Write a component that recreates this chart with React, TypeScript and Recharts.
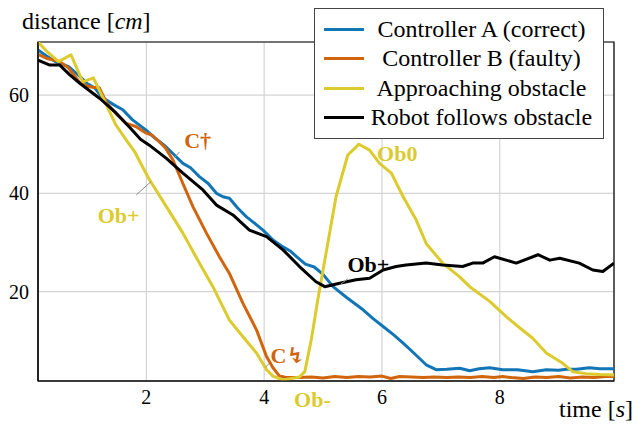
import React from "react";
import {
  LineChart,
  Line,
  XAxis,
  YAxis,
  CartesianGrid,
  ReferenceArea,
  ReferenceDot,
  ReferenceLine,
} from "recharts";

// [time s, distance cm]
const controllerA = [
  [0.16, 69.2], [0.3, 68.0], [0.46, 66.8], [0.68, 65.8], [0.85, 64.0], [1.0, 62.3],
  [1.12, 61.5], [1.25, 59.5], [1.45, 58.0], [1.6, 57.0], [1.76, 55.0], [1.99, 52.9],
  [2.15, 51.2], [2.3, 49.8], [2.45, 48.1], [2.62, 46.1], [2.75, 45.2], [2.9, 43.4],
  [3.05, 42.0], [3.19, 40.0], [3.3, 39.3], [3.41, 39.0], [3.55, 37.0], [3.7, 35.2],
  [3.85, 33.8], [3.98, 32.5], [4.15, 30.5], [4.32, 29.1], [4.45, 28.2], [4.55, 27.1],
  [4.7, 25.6], [4.85, 25.0], [5.0, 23.5], [5.17, 21.0], [5.4, 18.8], [5.68, 16.3],
  [5.85, 14.5], [6.02, 12.9], [6.2, 11.2], [6.36, 9.5], [6.55, 7.4], [6.75, 5.1],
  [6.92, 4.1], [7.1, 4.2], [7.32, 4.4], [7.49, 3.9], [7.65, 4.3], [7.83, 4.5],
  [8.05, 4.1], [8.3, 4.1], [8.56, 3.7], [8.79, 4.1], [9.0, 4.0], [9.13, 4.2],
  [9.3, 4.2], [9.52, 4.5], [9.7, 4.3], [9.94, 4.3],
];

const controllerB = [
  [0.16, 68.3], [0.3, 67.5], [0.53, 66.8], [0.68, 65.5], [0.87, 62.5], [1.0, 61.8],
  [1.09, 61.6], [1.2, 61.5], [1.32, 58.5], [1.5, 56.0], [1.65, 54.3], [1.82, 53.6],
  [1.99, 52.3], [2.1, 51.8], [2.21, 50.6], [2.32, 49.3], [2.45, 46.8], [2.62, 42.0],
  [2.79, 37.3], [3.02, 31.9], [3.24, 27.1], [3.41, 23.7], [3.64, 17.6], [3.87, 12.2],
  [4.04, 6.8], [4.15, 4.5], [4.26, 2.8], [4.37, 2.5], [4.6, 2.5], [4.8, 2.6],
  [5.0, 2.4], [5.2, 2.7], [5.4, 2.5], [5.6, 2.7], [5.8, 2.6], [6.0, 2.8],
  [6.15, 2.3], [6.3, 2.7], [6.5, 2.6], [6.7, 2.5], [6.9, 2.6], [7.1, 2.5],
  [7.3, 2.6], [7.5, 2.5], [7.7, 2.7], [7.9, 2.5], [8.05, 2.7], [8.2, 2.5],
  [8.4, 2.3], [8.6, 2.6], [8.8, 2.5], [9.0, 2.7], [9.2, 2.4], [9.4, 2.6],
  [9.6, 2.5], [9.8, 2.7], [9.94, 2.7],
];

const approaching = [
  [0.16, 70.8], [0.3, 69.0], [0.51, 66.8], [0.72, 68.2], [0.92, 62.7], [1.1, 63.5],
  [1.28, 59.0], [1.48, 54.0], [1.65, 51.0], [1.8, 48.5], [1.93, 45.5], [2.05, 42.8],
  [2.34, 37.3], [2.62, 31.9], [2.9, 25.8], [3.13, 21.0], [3.41, 14.2], [3.64, 10.8],
  [3.87, 7.5], [4.04, 4.1], [4.15, 2.8], [4.32, 2.0], [4.6, 2.6], [4.69, 3.7],
  [4.8, 10.2], [4.91, 18.3], [5.03, 26.4], [5.22, 39.3], [5.42, 47.8], [5.61, 50.0],
  [5.79, 48.8], [5.96, 46.1], [6.16, 44.1], [6.36, 39.3], [6.58, 34.6], [6.75, 29.8],
  [7.03, 25.8], [7.32, 23.0], [7.49, 21.0], [7.83, 18.0], [8.11, 14.9], [8.3, 13.0],
  [8.56, 10.5], [8.79, 7.5], [9.07, 5.4], [9.24, 3.7], [9.47, 3.3], [9.7, 3.1],
  [9.94, 3.0],
];

const follows = [
  [0.16, 67.1], [0.36, 66.1], [0.53, 66.1], [0.7, 64.1], [0.87, 62.4], [0.98, 61.4],
  [1.21, 59.3], [1.49, 56.3], [1.75, 53.0], [1.9, 51.0], [2.05, 49.8], [2.34, 47.1],
  [2.62, 44.1], [2.96, 40.7], [3.19, 37.6], [3.47, 35.6], [3.75, 32.5], [4.04, 31.2],
  [4.32, 28.5], [4.6, 25.1], [4.88, 22.0], [5.03, 21.0], [5.28, 21.7], [5.56, 22.4],
  [5.79, 22.7], [6.02, 24.4], [6.24, 25.1], [6.41, 25.4], [6.75, 25.8], [7.03, 25.4],
  [7.37, 25.1], [7.54, 25.8], [7.71, 25.8], [7.91, 27.1], [8.28, 25.8], [8.65, 27.5],
  [8.85, 26.4], [9.02, 26.8], [9.35, 25.8], [9.58, 24.4], [9.75, 24.1], [9.94, 25.8],
];

const xTicks = [2, 4, 6, 8];
const yTicks = [20, 40, 60];

const series = [
  { name: "Controller A (correct)", color: "#1276b6", rows: controllerA },
  { name: "Controller B (faulty)", color: "#d0650e", rows: controllerB },
  { name: "Approaching obstacle", color: "#dccb2e", rows: approaching },
  { name: "Robot follows obstacle", color: "#000000", rows: follows },
];

// text labels placed in data coordinates
const notes = [
  { text: "C\u2020", t: 2.87, d: 50.8, color: "#d0650e" },
  { text: "Ob+", t: 1.53, d: 35.6, color: "#dccb2e" },
  { text: "Ob0", t: 6.26, d: 48.2, color: "#dccb2e" },
  { text: "Ob+", t: 5.77, d: 25.6, color: "#000000" },
  { text: "C\u21af", t: 4.4, d: 7.1, color: "#d0650e" },
  { text: "Ob-", t: 4.82, d: -2.0, color: "#dccb2e" },
];

const pins = [
  [[1.83, 39.7], [2.08, 42.4]],
  [[2.48, 47.3], [2.56, 48.4]],
  [[5.3, 21.5], [5.42, 22.6]],
  [[4.02, 4.6], [4.08, 5.3]],
];

const FONT = "Liberation Serif, DejaVu Serif, Times New Roman, serif";

export default function App() {
  const lines = series.map((s) => ({
    ...s,
    data: s.rows.map(([t, d]) => ({ t, d })),
  }));

  return (
    <div style={{ position: "absolute", left: 0, top: 0, width: 642, height: 430, background: "#fff", fontFamily: FONT }}>
      <LineChart width={642} height={430} margin={{ top: 42, right: 28, left: 0, bottom: 0 }} style={{ fontFamily: FONT }}>
        <CartesianGrid stroke="#d4d4d4" strokeWidth={1.2} />
        <XAxis
          type="number"
          dataKey="t"
          domain={[0.16, 9.94]}
          ticks={xTicks}
          allowDataOverflow
          height={49}
          tickLine={false}
          tickSize={0}
          axisLine={{ stroke: "#000", strokeWidth: 1.2 }}
          tick={{ fill: "#000", fontSize: 20, fontFamily: FONT }}
          tickMargin={9}
        />
        <YAxis
          type="number"
          dataKey="d"
          domain={[1.8, 70.8]}
          ticks={yTicks}
          allowDataOverflow
          width={38}
          tickLine={false}
          tickSize={0}
          axisLine={{ stroke: "#000", strokeWidth: 1.2 }}
          tick={{ fill: "#000", fontSize: 20, fontFamily: FONT }}
          tickMargin={9}
        />
        <ReferenceArea x1={0.16} x2={9.94} y1={1.8} y2={70.8} fill="none" stroke="#000" strokeWidth={1.2} />
        {lines.map((s) => (
          <Line
            key={s.name}
            data={s.data}
            dataKey="d"
            name={s.name}
            stroke={s.color}
            strokeWidth={3}
            dot={false}
            isAnimationActive={false}
            strokeLinejoin="round"
          />
        ))}
        {pins.map((p, i) => (
          <ReferenceLine
            key={`pin-${i}`}
            segment={[{ x: p[0][0], y: p[0][1] }, { x: p[1][0], y: p[1][1] }]}
            stroke="#888"
            strokeWidth={1}
          />
        ))}
        {notes.map((n, i) => (
          <ReferenceDot
            key={`note-${i}`}
            x={n.t}
            y={n.d}
            r={0}
            stroke="none"
            fill="none"
            ifOverflow="visible"
            label={{ value: n.text, position: "center", fill: n.color, fontSize: 22, fontWeight: "bold", fontFamily: FONT }}
          />
        ))}
      </LineChart>

      <div style={{ position: "absolute", left: 22, top: 8, fontSize: 24, color: "#000", whiteSpace: "nowrap" }}>
        distance [<i>cm</i>]
      </div>
      <div style={{ position: "absolute", right: 9, top: 396, fontSize: 24, color: "#000", whiteSpace: "nowrap" }}>
        time [<i>s</i>]
      </div>

      <div
        style={{
          position: "absolute",
          left: 314,
          top: 8,
          width: 288,
          height: 118,
          border: "1.2px solid #444",
          background: "#fff",
          padding: "5.5px 0",
          boxSizing: "content-box",
        }}
      >
        {series.map((s) => (
          <div key={s.name} style={{ display: "flex", alignItems: "center", height: 29.5 }}>
            <div style={{ width: 40, height: 3, background: s.color, marginLeft: 9 }} />
            <div style={{ flex: 1, textAlign: "center", fontSize: 24, whiteSpace: "nowrap", marginRight: 4 }}>{s.name}</div>
          </div>
        ))}
      </div>
    </div>
  );
}
